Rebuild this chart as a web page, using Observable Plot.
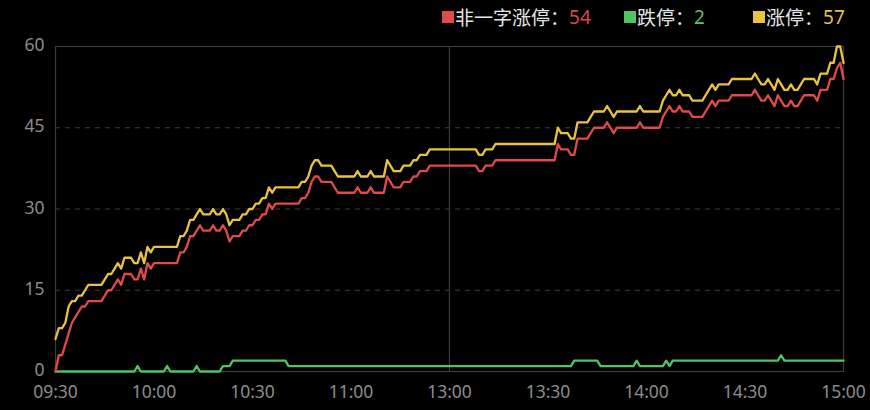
<!DOCTYPE html>
<html>
<head>
<meta charset="utf-8">
<script src="https://cdn.jsdelivr.net/npm/d3@7"></script>
<script src="https://cdn.jsdelivr.net/npm/@observablehq/plot@0.6"></script>
<style>
  html, body { margin: 0; padding: 0; background: #000; }
  #wrap { position: relative; width: 870px; height: 410px; background: #000; overflow: hidden; }
  #chart { position: absolute; left: 0; top: 0; }
  .item { position: absolute; top: 6px; height: 22px; display: flex; align-items: center;
          font-family: "Noto Sans", "Noto Sans CJK SC", sans-serif; font-size: 19px; color: #e6e6e6; white-space: nowrap; }
  .sw { width: 12px; height: 12px; margin-right: 1px; display: inline-block; }
</style>
</head>
<body>
<div id="wrap">
  <div id="chart"></div>
  <div id="legend"></div>
</div>
<script>
// ---- data (breakpoints: time, count) ----
const tickLabels = ["09:30", "10:00", "10:30", "11:00", "13:00", "13:30", "14:00", "14:30", "15:00"];

const seriesNames = ["非一字涨停", "跌停", "涨停"];
const seriesColors = ["#e04a4a", "#4fc462", "#e8c43e"];
const valueColors = ["#d9474a", "#5cbf6a", "#e0c14a"];
const legendLeft = [442, 624, 753];

const redSeries = [
  ["09:30",0],["09:31",3],["09:32",3],["09:33",5],["09:34",7],["09:35",9],["09:36",10],["09:37",11],["09:38",12],["09:39",12],
  ["09:40",13],["09:44",13],["09:45",14],["09:46",15],["09:47",15],["09:48",16],["09:49",17],["09:50",16],["09:51",18],["09:53",18],
  ["09:54",17],["09:55",17],["09:56",19],["09:57",17],["09:58",20],["09:59",19],["10:00",20],["10:07",20],["10:08",22],["10:09",22],
  ["10:10",23],["10:11",25],["10:12",25],["10:13",26],["10:14",27],["10:15",26],["10:17",26],["10:18",27],["10:19",26],["10:20",26],
  ["10:21",27],["10:22",26],["10:23",24],["10:24",25],["10:26",25],["10:27",26],["10:28",26],["10:29",27],["10:30",27],["10:31",28],
  ["10:32",28],["10:33",29],["10:34",29],["10:35",31],["10:36",30],["10:37",31],["10:44",31],["10:45",32],["10:46",32],["10:47",33],
  ["10:48",35],["10:49",36],["10:50",36],["10:51",35],["10:54",35],["10:55",34],["10:56",33],["11:01",33],["11:02",34],["11:03",33],
  ["11:05",33],["11:06",34],["11:07",33],["11:10",33],["11:11",36],["11:12",35],["11:13",34],["11:15",34],["11:16",35],["11:18",35],
  ["11:19",36],["11:20",36],["11:21",37],["11:23",37],["11:24",38],["11:30",38],["13:08",38],["13:09",37],["13:10",37],["13:11",38],
  ["13:13",38],["13:14",39],["13:32",39],["13:33",42],["13:34",41],["13:36",41],["13:37",40],["13:38",40],["13:39",43],["13:42",43],
  ["13:43",44],["13:44",45],["13:47",45],["13:48",46],["13:49",45],["13:50",44],["13:51",45],["13:57",45],["13:58",46],["13:59",45],
  ["14:04",45],["14:05",47],["14:06",48],["14:07",49],["14:08",48],["14:09",48],["14:10",49],["14:11",48],["14:13",48],["14:14",47],
  ["14:17",47],["14:18",48],["14:19",49],["14:20",50],["14:21",49],["14:22",50],["14:25",50],["14:26",51],["14:32",51],["14:33",52],
  ["14:34",51],["14:35",50],["14:36",50],["14:37",51],["14:38",50],["14:39",49],["14:40",51],["14:41",50],["14:42",49],["14:43",49],
  ["14:44",50],["14:45",49],["14:46",49],["14:47",50],["14:48",51],["14:51",51],["14:52",50],["14:53",52],["14:55",52],["14:56",54],
  ["14:57",54],["14:58",56],["14:59",57],["15:00",54]
];

const yellowSeries = [
  ["09:30",6],["09:31",8],["09:32",8],["09:33",9],["09:34",12],["09:35",13],["09:36",13],["09:37",14],["09:38",14],["09:39",15],
  ["09:40",16],["09:44",16],["09:45",17],["09:46",18],["09:47",18],["09:48",19],["09:49",20],["09:50",19],["09:51",21],["09:53",21],
  ["09:54",20],["09:55",20],["09:56",22],["09:57",20],["09:58",23],["09:59",22],["10:00",23],["10:07",23],["10:08",25],["10:09",25],
  ["10:10",26],["10:11",28],["10:12",28],["10:13",29],["10:14",30],["10:15",29],["10:17",29],["10:18",30],["10:19",29],["10:20",29],
  ["10:21",30],["10:22",29],["10:23",27],["10:24",28],["10:26",28],["10:27",29],["10:28",29],["10:29",30],["10:30",30],["10:31",31],
  ["10:32",31],["10:33",32],["10:34",32],["10:35",34],["10:36",33],["10:37",34],["10:44",34],["10:45",35],["10:46",35],["10:47",36],
  ["10:48",38],["10:49",39],["10:50",39],["10:51",38],["10:54",38],["10:55",37],["10:56",36],["11:01",36],["11:02",37],["11:03",36],
  ["11:05",36],["11:06",37],["11:07",36],["11:10",36],["11:11",39],["11:12",38],["11:13",37],["11:15",37],["11:16",38],["11:18",38],
  ["11:19",39],["11:20",39],["11:21",40],["11:23",40],["11:24",41],["11:30",41],["13:08",41],["13:09",40],["13:10",40],["13:11",41],
  ["13:13",41],["13:14",42],["13:32",42],["13:33",45],["13:34",44],["13:36",44],["13:37",43],["13:38",43],["13:39",46],["13:42",46],
  ["13:43",47],["13:44",48],["13:47",48],["13:48",49],["13:49",48],["13:50",47],["13:51",48],["13:57",48],["13:58",49],["13:59",48],
  ["14:04",48],["14:05",50],["14:06",51],["14:07",52],["14:08",51],["14:09",51],["14:10",52],["14:11",51],["14:13",51],["14:14",50],
  ["14:17",50],["14:18",51],["14:19",52],["14:20",53],["14:21",52],["14:22",53],["14:25",53],["14:26",54],["14:32",54],["14:33",55],
  ["14:34",54],["14:35",53],["14:36",53],["14:37",54],["14:38",53],["14:39",52],["14:40",54],["14:41",53],["14:42",52],["14:43",52],
  ["14:44",53],["14:45",52],["14:46",52],["14:47",53],["14:48",54],["14:51",54],["14:52",53],["14:53",55],["14:55",55],["14:56",57],
  ["14:57",57],["14:58",60],["14:59",60],["15:00",57]
];

const greenSeries = [
  ["09:30",0],["09:54",0],["09:55",1],["09:56",0],["10:03",0],["10:04",1],["10:05",0],["10:12",0],["10:13",1],["10:14",0],
  ["10:20",0],["10:21",1],["10:23",1],["10:24",2],["10:40",2],["10:41",1],["11:30",1],["13:37",1],["13:38",2],["13:45",2],
  ["13:46",1],["13:56",1],["13:57",2],["13:58",1],["14:05",1],["14:06",2],["14:07",1],["14:08",2],["14:40",2],["14:41",3],
  ["14:42",2],["15:00",2]
];

const yTicks = [0, 15, 30, 45, 60];

// ---- trading-time position (lunch break collapsed) ----
function tradeMin(t) {
  const [h, m] = t.split(":").map(Number);
  const v = h * 60 + m;
  return v <= 690 ? v - 570 : v - 780 + 120;
}
const tickPos = tickLabels.map(tradeMin);
const lunchPos = [tradeMin("13:00")];

const allSeries = [redSeries, greenSeries, yellowSeries];
const fontStack = '"Noto Sans", "Noto Sans CJK SC", sans-serif';

const chart = Plot.plot({
  width: 870,
  height: 410,
  marginTop: 46,
  marginLeft: 55,
  marginRight: 27,
  marginBottom: 39,
  style: { background: "#000", color: "#8c8c8c", fontSize: "17px", fontFamily: fontStack },
  x: { type: "linear", domain: [0, 240] },
  y: { domain: [0, 60] },
  marks: [
    Plot.ruleY(yTicks.slice(1, -1), { stroke: "#3c3c3c", strokeWidth: 1, strokeDasharray: "5,5" }),
    Plot.frame({ stroke: "#3c3c3c", strokeWidth: 1.2 }),
    Plot.ruleX(lunchPos, { stroke: "#3c3c3c", strokeWidth: 1.2 }),
    Plot.line(greenSeries, { x: d => tradeMin(d[0]), y: d => d[1], stroke: seriesColors[1], strokeWidth: 2.3 }),
    Plot.line(redSeries, { x: d => tradeMin(d[0]), y: d => d[1], stroke: seriesColors[0], strokeWidth: 2.3 }),
    Plot.line(yellowSeries, { x: d => tradeMin(d[0]), y: d => d[1], stroke: seriesColors[2], strokeWidth: 2.3 }),
    Plot.axisX(tickPos, { tickSize: 0, tickPadding: 14, label: null,
      tickFormat: d => tickLabels[tickPos.indexOf(d)], fill: "#8c8c8c", fontSize: 17.5 }),
    Plot.axisY(yTicks, { tickSize: 0, tickPadding: 11, label: null, fill: "#8c8c8c", fontSize: 17.5, dy: -1 })
  ]
});
document.getElementById("chart").appendChild(chart);

// ---- legend ----
const legend = document.getElementById("legend");
seriesNames.forEach((name, i) => {
  const s = allSeries[i];
  const last = s[s.length - 1][1];
  const item = document.createElement("div");
  item.className = "item";
  item.style.left = legendLeft[i] + "px";
  item.innerHTML = `<span class="sw" style="background:${seriesColors[i]}"></span>` +
    `<span>${name}：</span><span style="color:${valueColors[i]}">${last}</span>`;
  legend.appendChild(item);
});
</script>
</body>
</html>
